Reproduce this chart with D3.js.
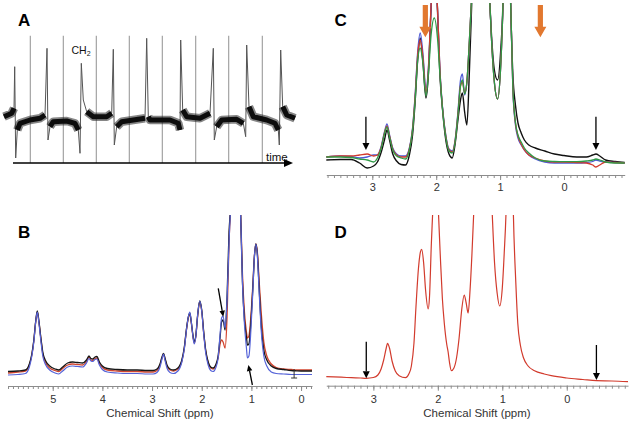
<!DOCTYPE html>
<html><head><meta charset="utf-8">
<script src="https://cdn.jsdelivr.net/npm/d3@7"></script>
<style>body{margin:0;background:#fff}svg{display:block;font-family:Arial,"Liberation Sans",sans-serif}</style>
</head><body><svg id="c" width="633" height="423"></svg>
<script>
// ---------- Panel A : time trace ----------
const aTime = [-0.9,-0.13,0.1,0.17,0.27,0.43,0.7,1.7,2.7,3.2,3.4,3.5,3.7,4.03,5.37,6.2,6.53,6.7,6.83,7.03,7.37,8.03,9.37,9.87,10.03,10.13,10.37,10.87,12.03,13.2,13.37,13.53,13.7,15.7,16.53,16.7,16.77,16.97,17.37,18.7,19.7,20.03,20.13,20.37,20.87,22.37,23.03,23.27,23.37,23.6,24.03,25.37,26.2,26.53,26.63,26.77,26.97,27.37,28.2];
const aSignal = [46.3,49.7,54.7,96.3,5,33,39.7,43,44.7,48,114.7,23,36.3,41.3,42,39.7,33,9.7,99.7,63,51.3,46.3,46.3,49.7,113.7,18,36.3,41.3,43,44.7,124.7,46.3,43,43,39.7,33,123,53,46.3,44.7,49.7,114.7,23,36.3,43,43.7,39.7,26.3,118,56.3,46.3,43,39.7,33,18,113,56.3,48,44.7];
const aMarkers = [1.73,5.03,8.33,11.63,14.93,18.27,21.57,24.93];

// ---------- Panel B : spectra ----------
const bPpm = [5.90,5.70,5.55,5.47,5.42,5.38,5.34,5.31,5.28,5.24,5.20,5.14,5.06,4.95,4.88,4.80,4.70,4.60,4.50,4.40,4.32,4.27,4.23,4.19,4.15,4.11,4.06,4.00,3.90,3.70,3.50,3.30,3.10,2.98,2.90,2.84,2.80,2.77,2.74,2.70,2.64,2.57,2.48,2.40,2.35,2.31,2.27,2.24,2.21,2.18,2.15,2.12,2.08,2.04,2.00,1.96,1.92,1.87,1.82,1.77,1.72,1.67,1.63,1.60,1.57,1.53,1.49,1.45,1.42,1.32,1.22,1.18,1.14,1.10,1.08,1.05,1.01,0.97,0.94,0.91,0.88,0.84,0.80,0.75,0.69,0.60,0.50,0.35,0.20,0.10,0.00,-0.10,-0.22];
const bBlack = [0.5,1,2,8,18,32,52,61,52,35,20,11,6,3,2,5,9,10,9.5,9,12,16,13.5,13,15,15.5,10,6,3.5,2.5,2,2,1.5,1.5,3,8,15,18.5,14,7,3,2,4,12,25,42,55,59,50,38,30,36,58,71,62,40,22,10,5,4,7,16,35,50,52,42,75,140,165,400,165,90,52,35,27,28,50,85,115,128,118,80,45,22,12,6,3.5,2.5,1.5,1.2,1.0,1,1];
const bRed = [-1,0,1,7,17,31,51,60,51,34,18,9,4,1.5,0.5,3.5,7,8,7.5,7,10.5,15,12,11.5,13.5,14,8.5,4.5,2,1,0.5,0.5,0,0,1.5,7,14,18,13,6,2,1,3,11,24,41,54,58,49,37,29,35,57,70,61,39,21,9,4,3,6,14,28,32,30,24,55,130,165,400,165,98,60,40,34,36,56,88,116,128,120,88,58,30,16,8,4.5,3,2.5,2,2,2,2];
const bBlue = [-3,-2.5,-1.5,5,16,30,51,60,50,32,16,7,2,-1,-2,1,5,6,5.5,5,9,13.5,11,10.5,12.5,13,7,2.5,0,-1,-1.5,-1.5,-2,-2,-0.5,5,13,18,12,4,-0.5,-1.5,1,10,23,41,55,60,50,37,28,35,58,71,61,38,19,7,1.5,0.5,4,14,38,54,56,44,72,130,165,400,165,90,48,24,14,16,42,82,115,128,116,76,40,16,6,0,-1.5,-2,-2.5,-2.5,-2.5,-2.5,-2.5];

// ---------- Panel C : spectra ----------
const cPpm = [3.72,3.50,3.33,3.20,3.08,2.98,2.92,2.86,2.81,2.77,2.73,2.68,2.62,2.55,2.48,2.42,2.37,2.33,2.29,2.25,2.21,2.16,2.12,2.08,2.03,1.98,1.94,1.90,1.85,1.80,1.75,1.70,1.66,1.62,1.59,1.555,1.52,1.48,1.44,1.30,1.17,1.13,1.09,1.04,0.99,0.95,0.90,0.84,0.80,0.76,0.72,0.67,0.62,0.55,0.45,0.30,0.15,0.00,-0.20,-0.35,-0.45,-0.50,-0.56,-0.65,-0.80,-0.95];
const cBlack = [0,0.5,0.5,-3,-8,-6,-2,8,20,30,20,6,-1,-4.5,-5,5,25,58,100,122,100,62,88,152,210,150,83,50,20,6,2,18,40,60,67,48,35,90,165,400,170,120,90,80,110,170,400,170,85,55,37,27,20,15,12,9,6,4.5,3,3,5,6,4,0,-1.5,-2.5];
const cBlue = [3,4,3.5,2,3,5,5,14,28,36,25,12,6,4,4,12,32,65,108,127,108,72,95,155,210,152,88,52,25,11,9,22,48,80,86,65,78,120,170,400,170,115,78,61,95,170,400,170,70,35,22,15,10,5,1,-2,-3,-3,-3,-2.5,-1.5,0,-1,-2,-2.5,-3];
const cRed = [3,4,4,5,6,4,5,13,27,34,24,11,5,3,3,11,31,63,105,120,104,68,93,155,210,152,87,51,24,10,8,21,46,74,78,67,78,120,170,400,170,115,78,61,95,170,400,170,72,37,24,16,10,5,2,-1,-2,-2,-2.5,-3,-5,-7,-5,-2,-2.5,-3];
const cGreen = [3,3,2.5,1,0,-2,2,12,26,33,23,10,4,2,1,10,30,60,100,112,98,64,88,125,142,122,84,50,23,9,7,20,45,74,80,66,78,120,170,400,170,115,78,61,95,170,400,170,72,38,25,18,12,7,2,-1,-1.5,-1.7,-1.7,-1,0,1,0,-2,-3,-3];

// ---------- Panel D : spectrum ----------
const dPpm = [3.73,3.50,3.34,3.20,3.11,3.00,2.93,2.88,2.84,2.80,2.78,2.75,2.71,2.66,2.60,2.50,2.45,2.41,2.37,2.34,2.30,2.27,2.25,2.22,2.19,2.15,2.13,2.10,2.08,2.03,1.99,1.96,1.93,1.90,1.86,1.84,1.82,1.79,1.75,1.71,1.67,1.63,1.59,1.56,1.53,1.50,1.47,1.44,1.30,1.16,1.12,1.08,1.04,1.00,0.97,0.94,0.88,0.83,0.79,0.76,0.72,0.67,0.60,0.50,0.35,0.24,0.00,-0.25,-0.46,-0.70,-0.95];
const dRed = [1.3,0.8,0.3,0,-0.3,0.5,3,9,18,30,34.7,30,17,7,2.3,0.3,4,12,35,70,110,126,128.7,115,88,69,80,135,165,250,165,120,80,55,33,26,16,7.3,10,20,40,68,83,75,65,88,125,170,400,170,115,85,72,90,125,170,400,170,95,55,33,20,12,7.3,4,2.3,0,-1.5,-2.7,-3,-3.7];

const majorTicks = [5,4,3,2,1,0];

const svg = d3.select("#c");
const defs = svg.append("defs");
function clip(id, x0, y0, x1, y1){
  defs.append("clipPath").attr("id", id).append("rect")
    .attr("x", x0).attr("y", y0).attr("width", x1 - x0).attr("height", y1 - y0);
}

// ================= Panel A =================
const xA = d3.scaleLinear().domain([0, 28]).range([13, 293]);
const yA = d3.scaleLinear().domain([0, 130]).range([163, 33]);
const gA = svg.append("g");
gA.selectAll("line.mk").data(aMarkers).join("line").attr("class","mk")
  .attr("x1", d => xA(d)).attr("x2", d => xA(d))
  .attr("y1", yA(127.3)).attr("y2", yA(0))
  .attr("stroke", "#9a9a9a").attr("stroke-width", 1.1);
const aPts = aTime.map((t, i) => [t, aSignal[i]]);
const lineA = d3.line().x(d => xA(d[0])).y(d => yA(d[1]));
gA.append("path").attr("d", lineA(aPts)).attr("fill","none").attr("stroke","#555").attr("stroke-width",1);
const bandLine = d3.line().x(d => xA(d[0])).y(d => yA(d[1])).defined(d => d[1] > 30 && d[1] < 58);
gA.append("path").attr("d", bandLine(aPts))
  .attr("fill","none").attr("stroke","#222").attr("stroke-opacity",0.55).attr("stroke-width",8.5).attr("stroke-linejoin","round");
gA.append("path").attr("d", bandLine(aPts))
  .attr("fill","none").attr("stroke","#0d0d0d").attr("stroke-width",5).attr("stroke-linejoin","round");
// time axis with arrow
gA.append("line").attr("x1", xA(0)).attr("x2", xA(27.3)).attr("y1", yA(0)).attr("y2", yA(0))
  .attr("stroke","#000").attr("stroke-width",1.6);
gA.append("path").attr("d", `M${xA(28)},${yA(0)} L${xA(27.1)},${yA(0)-4} L${xA(27.1)},${yA(0)+4} Z`).attr("fill","#000");
gA.append("text").attr("x", 266).attr("y", 160.5).attr("font-size", 11.5).attr("fill","#111").text("time");
const ch = gA.append("text").attr("x", 71.5).attr("y", 53.5).attr("font-size", 10.5).attr("fill","#111");
ch.append("tspan").text("CH");
ch.append("tspan").attr("font-size", 7).attr("dy", 2).text("2");

// ================= helpers =================
function ppmAxis(x, yPos, lo, hi, pad){
  const minors = d3.range(Math.round(lo*10), Math.round(hi*10) + 1).map(v => v/10);
  const majors = majorTicks.filter(v => v >= lo && v <= hi);
  const g1 = svg.append("g").attr("transform", `translate(0,${yPos})`)
    .call(d3.axisBottom(x).tickValues(minors).tickSize(3).tickSizeOuter(0).tickFormat(""));
  g1.select(".domain").attr("stroke", "#8c8c8c");
  g1.selectAll(".tick line").attr("stroke", "#8c8c8c");
  const g2 = svg.append("g").attr("transform", `translate(0,${yPos})`)
    .call(d3.axisBottom(x).tickValues(majors).tickSize(5).tickPadding(pad).tickFormat(d3.format("d")));
  g2.select(".domain").remove();
  g2.selectAll(".tick line").attr("stroke", "#8c8c8c");
  g2.selectAll(".tick text").attr("font-size", 11).attr("fill", "#333")
    .attr("font-family", "Arial, 'Liberation Sans', sans-serif");
}
function spectrum(g, x, y, ppm, vals, color, w){
  const line = d3.line().x((d, i) => x(ppm[i])).y(d => y(d)).curve(d3.curveMonotoneX);
  g.append("path").attr("d", line(vals)).attr("fill","none").attr("stroke", color)
    .attr("stroke-width", w).attr("stroke-linejoin","round");
}
function blackArrow(x1, y1, x2, y2, head, wid, sw){
  const ang = Math.atan2(y2 - y1, x2 - x1);
  const bx = x2 - head*Math.cos(ang), by = y2 - head*Math.sin(ang);
  svg.append("line").attr("x1", x1).attr("y1", y1).attr("x2", bx).attr("y2", by)
    .attr("stroke","#000").attr("stroke-width", sw);
  const px = -Math.sin(ang)*wid/2, py = Math.cos(ang)*wid/2;
  svg.append("path").attr("d", `M${x2},${y2} L${bx+px},${by+py} L${bx-px},${by-py} Z`).attr("fill","#000");
}
function orangeArrow(xc, yTop, yHead, yTip){
  svg.append("path").attr("d",
    `M${xc-2.6},${yTop} L${xc+2.6},${yTop} L${xc+2.6},${yHead} L${xc+6},${yHead} L${xc},${yTip} L${xc-6},${yHead} L${xc-2.6},${yHead} Z`)
    .attr("fill","#e2782f");
}
function panelLabel(t, x, y){
  svg.append("text").attr("x", x).attr("y", y).attr("font-size", 17).attr("font-weight","bold")
    .attr("fill","#000").text(t);
}

// ================= Panel B =================
const xB = d3.scaleLinear().domain([5.9, -0.22]).range([8, 312]);
const yB = d3.scaleLinear().domain([0, 157]).range([372, 215]);
clip("clipB", 8, 215, 312, 392);
const gB = svg.append("g").attr("clip-path","url(#clipB)");
spectrum(gB, xB, yB, bPpm, bRed, "#d2452f", 1.3);
spectrum(gB, xB, yB, bPpm, bBlack, "#161616", 1.3);
spectrum(gB, xB, yB, bPpm, bBlue, "#5563d8", 1.2);
ppmAxis(xB, 386, -0.22, 5.9, 4.4);
blackArrow(xB(1.667), yB(83.7), xB(1.567), yB(55.3), 6, 5.5, 1.3);
blackArrow(xB(0.98), yB(-13), xB(1.06), yB(7), 6, 5.5, 1.3);
// small bar marker
svg.append("path").attr("d",
  `M${xB(0.14)},${yB(3)} L${xB(0.14)},${yB(-6)} M${xB(0.14)-3},${yB(-6)} L${xB(0.14)+3},${yB(-6)}`)
  .attr("stroke","#333").attr("stroke-width",1).attr("fill","none");
svg.append("text").attr("x", 160).attr("y", 416.5).attr("text-anchor","middle")
  .attr("font-size", 11.5).attr("fill","#333").text("Chemical Shift (ppm)");

// ================= Panel C =================
const xC = d3.scaleLinear().domain([3.72, -0.95]).range([326.3, 624.7]);
const yC = d3.scaleLinear().domain([0, 157]).range([160, 3]);
clip("clipC", 326, 3, 626, 175);
const gC = svg.append("g").attr("clip-path","url(#clipC)");
spectrum(gC, xC, yC, cPpm, cBlack, "#111", 1.4);
spectrum(gC, xC, yC, cPpm, cBlue, "#4e5ad6", 1.3);
spectrum(gC, xC, yC, cPpm, cRed, "#d43a2c", 1.3);
spectrum(gC, xC, yC, cPpm, cGreen, "#2f9a46", 1.3);
ppmAxis(xC, 175, -0.95, 3.72, 3.2);
orangeArrow(xC(2.17), yC(155), yC(133.3), yC(122.7));
orangeArrow(xC(0.37), yC(155), yC(133.3), yC(122.7));
blackArrow(xC(3.10), yC(43.3), xC(3.10), yC(10), 7, 7, 1.3);
blackArrow(xC(-0.50), yC(43.3), xC(-0.50), yC(10), 7, 7, 1.3);

// ================= Panel D =================
const xD = d3.scaleLinear().domain([3.73, -0.95]).range([326.3, 628]);
const yD = d3.scaleLinear().domain([0, 163]).range([378, 215]);
clip("clipD", 326, 215, 630, 392);
const gD = svg.append("g").attr("clip-path","url(#clipD)");
spectrum(gD, xD, yD, dPpm, dRed, "#d23b2d", 1.2);
ppmAxis(xD, 385.7, -0.95, 3.73, 4.8);
blackArrow(xD(3.11), yD(36.3), xD(3.11), yD(-0.3), 7, 7, 1.3);
blackArrow(xD(-0.46), yD(33), xD(-0.46), yD(-2), 7, 7, 1.3);
svg.append("text").attr("x", 477).attr("y", 416.5).attr("text-anchor","middle")
  .attr("font-size", 11.5).attr("fill","#333").text("Chemical Shift (ppm)");

panelLabel("A", 18, 25.5);
panelLabel("B", 18, 238);
panelLabel("C", 334.5, 26);
panelLabel("D", 334.5, 238);
</script></body></html>
